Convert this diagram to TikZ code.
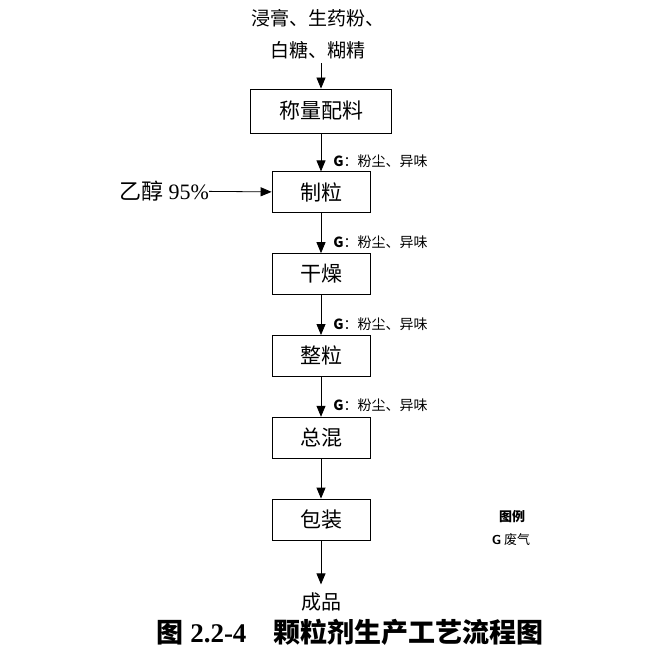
\documentclass[tikz,border=0pt]{standalone}
\usepackage{fontspec}
\setmainfont{Liberation Serif}
\newfontfamily\cjk{Noto Sans CJK SC}
\usetikzlibrary{positioning,arrows.meta}

\begin{document}
\begin{tikzpicture}[x=1pt,y=-1pt]
      \tikzstyle{proc}=[rectangle,draw,line width=0.8pt,minimum width=98pt,minimum height=41pt,inner sep=0pt,font=\cjk\fontsize{21}{21}\selectfont]
      \tikzstyle{flow}=[-{Triangle[length=11pt,width=9pt]},line width=0.8pt]
      \tikzstyle{gas}=[right,xshift=10pt,inner sep=2pt,font=\cjk\fontsize{14}{14}\selectfont]
      \useasboundingbox (0,0) rectangle (666,658);
      \node[align=center,inner sep=0pt,font=\cjk\fontsize{19}{32}\selectfont] (raw) at (318,34) {浸膏、生药粉、\\白糖、糊精};
      \node[proc,minimum width=141pt,minimum height=44pt] (weigh) at (321,111) {称量配料};
      \node[proc,below=38pt of weigh] (gran) {制粒};
      \node[proc,below=40pt of gran] (dry) {干燥};
      \node[proc,below=40pt of dry] (size) {整粒};
      \node[proc,below=40pt of size] (mix) {总混};
      \node[proc,below=40pt of mix] (pack) {包装};
      \node[inner sep=0pt,font=\cjk\fontsize{20}{20}\selectfont,below=52pt of pack] (prod) {成品};
      \node[inner sep=0pt,font=\fontsize{22}{22}\selectfont] (eth) at (164,191) {{\cjk 乙醇} 95\%};
      \draw[flow] (raw.south -| weigh.north) ++(0,4) -- (weigh.north);
      \draw[flow] (weigh) -- node[gas,pos=0.72] {{\bfseries G}：粉尘、异味} (gran);
      \draw[flow] (eth) -- (gran);
      \draw[flow] (gran) -- node[gas,pos=0.72] {{\bfseries G}：粉尘、异味} (dry);
      \draw[flow] (dry) -- node[gas,pos=0.72] {{\bfseries G}：粉尘、异味} (size);
      \draw[flow] (size) -- node[gas,pos=0.72] {{\bfseries G}：粉尘、异味} (mix);
      \draw[flow] (mix) -- (pack);
      \draw[flow] (pack) -- ([yshift=8pt]prod.north);
      % legend
      \node[font=\cjk\bfseries\fontsize{13}{13}\selectfont] (legend) at (512,517) {图例};
      \node[font=\cjk\fontsize{13}{13}\selectfont] (gkey) at (511,540) {{\sffamily\bfseries G} 废气};
      % caption
      \node[font=\bfseries\fontsize{27}{27}\selectfont] (cap) at (350,632) {{\cjk 图} 2.2-4\quad{\cjk 颗粒剂生产工艺流程图}};
\end{tikzpicture}
\end{document}
